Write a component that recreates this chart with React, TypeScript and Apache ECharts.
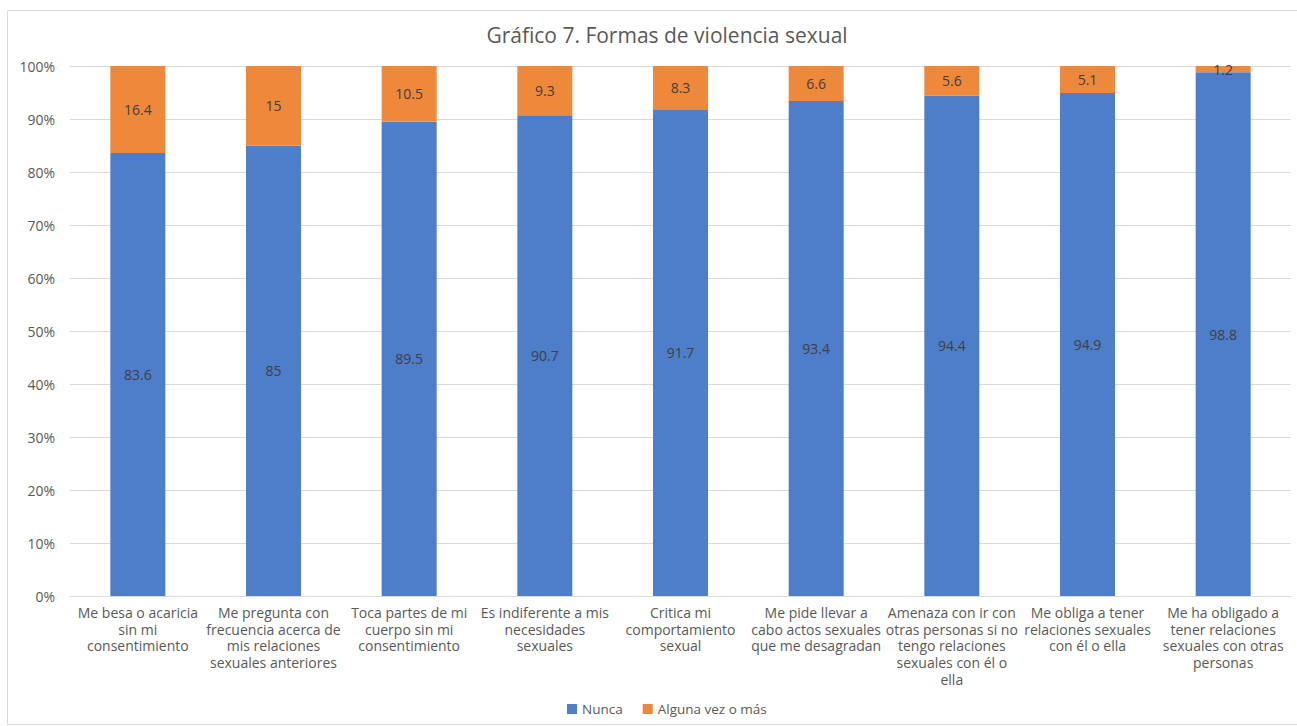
import React, { useEffect, useRef } from "react";
import * as echarts from "echarts";

const categories = [
  "Me besa o acaricia\nsin mi\nconsentimiento",
  "Me pregunta con\nfrecuencia acerca de\nmis relaciones\nsexuales anteriores",
  "Toca partes de mi\ncuerpo sin mi\nconsentimiento",
  "Es indiferente a mis\nnecesidades\nsexuales",
  "Critica mi\ncomportamiento\nsexual",
  "Me pide llevar a\ncabo actos sexuales\nque me desagradan",
  "Amenaza con ir con\notras personas si no\ntengo relaciones\nsexuales con él o\nella",
  "Me obliga a tener\nrelaciones sexuales\ncon él o ella",
  "Me ha obligado a\ntener relaciones\nsexuales con otras\npersonas",
];
const nunca = [83.6, 85, 89.5, 90.7, 91.7, 93.4, 94.4, 94.9, 98.8];
const alguna = [16.4, 15, 10.5, 9.3, 8.3, 6.6, 5.6, 5.1, 1.2];
const seriesNames = ["Nunca", "Alguna vez o más"];
const titleText = "Gráfico 7. Formas de violencia sexual";

const FONT = "'Open Sans', 'Liberation Sans', sans-serif";

export default function App() {
  const ref = useRef<HTMLDivElement>(null);
  useEffect(() => {
    if (!ref.current) return;
    const chart = echarts.init(ref.current, undefined, { renderer: "svg" });
    chart.setOption({
      animation: false,
      backgroundColor: "#ffffff",
      textStyle: { fontFamily: FONT },
      title: {
        text: titleText,
        left: 662,
        top: 19,
        textAlign: "center",
        textStyle: { fontFamily: FONT, fontSize: 21, fontWeight: "normal", color: "#595959" },
      },
      graphic: [
        {
          type: "rect",
          shape: { x: 7.5, y: 10.5, width: 1300, height: 714 },
          style: { fill: "none", stroke: "#d9d9d9", lineWidth: 1 },
          silent: true,
        },
      ],
      legend: {
        data: seriesNames,
        left: 562,
        top: 697,
        icon: "rect",
        itemWidth: 10,
        itemHeight: 10,
        itemGap: 20,
        textStyle: { fontFamily: FONT, fontSize: 13.5, color: "#595959" },
      },
      grid: { left: 70, right: 6, top: 66, bottom: 130, containLabel: false },
      xAxis: {
        type: "category",
        data: categories,
        axisLine: { show: true, lineStyle: { color: "#d9d9d9" } },
        axisTick: { show: false },
        axisLabel: {
          interval: 0,
          color: "#595959",
          fontFamily: FONT,
          fontSize: 14,
          lineHeight: 16.75,
          margin: 8,
        },
      },
      yAxis: {
        type: "value",
        min: 0,
        max: 100,
        interval: 10,
        axisLine: { show: false },
        axisTick: { show: false },
        axisLabel: {
          formatter: "{value}%",
          color: "#595959",
          fontFamily: FONT,
          fontSize: 14,
          margin: 15,
        },
        splitLine: { lineStyle: { color: "#d9d9d9" } },
      },
      series: [
        {
          name: seriesNames[0],
          type: "bar",
          stack: "total",
          barWidth: 55,
          data: nunca,
          itemStyle: { color: "#4e7dca" },
          label: {
            show: true,
            position: "inside",
            color: "#404040",
            fontFamily: FONT,
            fontSize: 14,
          },
        },
        {
          name: seriesNames[1],
          type: "bar",
          stack: "total",
          barWidth: 55,
          data: alguna,
          itemStyle: { color: "#ee883a" },
          label: {
            show: true,
            position: "inside",
            color: "#404040",
            fontFamily: FONT,
            fontSize: 14,
          },
        },
      ],
    });
    return () => chart.dispose();
  }, []);
  return (
    <div
      ref={ref}
      style={{ position: "fixed", left: 0, top: 0, width: 1297, height: 726 }}
    />
  );
}
